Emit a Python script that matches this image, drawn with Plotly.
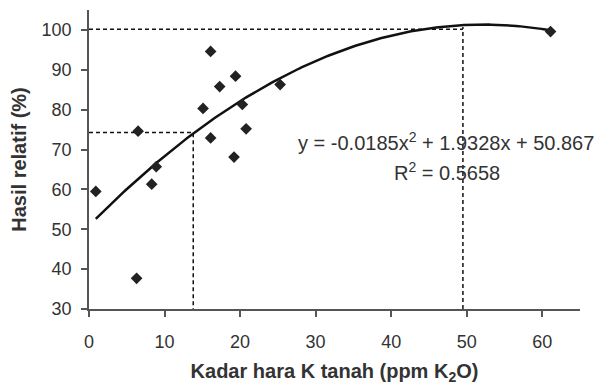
import numpy as np
import plotly.graph_objects as go

# Observed data (soil K vs relative yield)
k_soil = [0.9, 6.3, 6.5, 8.3, 8.9, 15.1, 16.1, 16.1, 17.3, 19.2, 19.4, 20.3, 20.8, 25.3, 61.1]
rel_yield = [59.5, 37.7, 74.6, 61.3, 65.7, 80.3, 94.6, 72.9, 85.8, 68.1, 88.4, 81.3, 75.2, 86.3, 99.6]

# Quadratic trend line coefficients (from the chart's equation)
coef_a, coef_b, coef_c = -0.0185, 1.9328, 50.867
r_squared = 0.5658

# Critical levels shown by the dashed guide lines
crit_x = [13.8, 49.5]
crit_y = [74.3, 100.2]

x_ticks = [0, 10, 20, 30, 40, 50, 60]
y_ticks = [30, 40, 50, 60, 70, 80, 90, 100]
x_range = [0, 65]
y_range = [30, 105]

xt = np.linspace(min(k_soil), max(k_soil), 200)
yt = coef_a * xt**2 + coef_b * xt + coef_c
y_peak = float(coef_c - coef_b**2 / (4 * coef_a))

fig = go.Figure()

dash = "4px,3px"
guide = dict(color="#111", width=1.5, dash=dash)
# Guide lines
fig.add_trace(go.Scatter(x=[x_range[0], crit_x[0], crit_x[0]], y=[crit_y[0], crit_y[0], y_range[0]],
                         mode="lines", line=guide, hoverinfo="skip"))
fig.add_trace(go.Scatter(x=[x_range[0], crit_x[1]], y=[crit_y[1], crit_y[1]],
                         mode="lines", line=guide, hoverinfo="skip"))
fig.add_trace(go.Scatter(x=[crit_x[1], crit_x[1]], y=[y_range[0], y_peak - 0.6],
                         mode="lines", line=guide, hoverinfo="skip"))

# Trend line
fig.add_trace(go.Scatter(x=xt, y=yt, mode="lines", line=dict(color="#111", width=2.5)))

# Points
fig.add_trace(go.Scatter(x=k_soil, y=rel_yield, mode="markers",
                         marker=dict(symbol="diamond", size=9, color="#222")))

font_main = "Liberation Sans, Arial, sans-serif"
fig.add_annotation(x=47.2, y=72, xref="x", yref="y", showarrow=False,
                   text=f"y = {coef_a}x<sup>2</sup> + {coef_b}x + {coef_c}",
                   font=dict(size=20, color="#333", family=font_main))
fig.add_annotation(x=47.4, y=64.6, xref="x", yref="y", showarrow=False,
                   text=f"R<sup>2</sup> = {r_squared}",
                   font=dict(size=20, color="#333", family=font_main))

# The page body adds an 8px margin, so the figure is sized to fit the window
fig.update_layout(
    width=594, height=377,
    margin=dict(l=81, r=22, t=2, b=76),
    paper_bgcolor="white", plot_bgcolor="white",
    showlegend=False,
    font=dict(family=font_main, color="#333", size=18),
)
fig.update_xaxes(range=x_range, tickvals=x_ticks, showgrid=False, zeroline=False,
                 automargin=False,
                 showline=True, linecolor="#555", linewidth=1.5,
                 ticks="outside", ticklen=6, tickcolor="#555", tickwidth=1.5,
                 ticklabelstandoff=10,
                 title=dict(text="<b>Kadar hara K tanah (ppm K<sub>2</sub>O)</b>",
                            font=dict(size=20, color="#333"), standoff=19))
fig.update_yaxes(range=y_range, tickvals=y_ticks, showgrid=False, zeroline=False,
                 automargin=False,
                 showline=True, linecolor="#555", linewidth=1.5,
                 ticks="outside", ticklen=6, tickcolor="#555", tickwidth=1.5,
                 ticklabelstandoff=6,
                 title=dict(text="<b>Hasil relatif (%)</b>",
                            font=dict(size=20, color="#333"), standoff=17))

fig.write_html("out.html")
